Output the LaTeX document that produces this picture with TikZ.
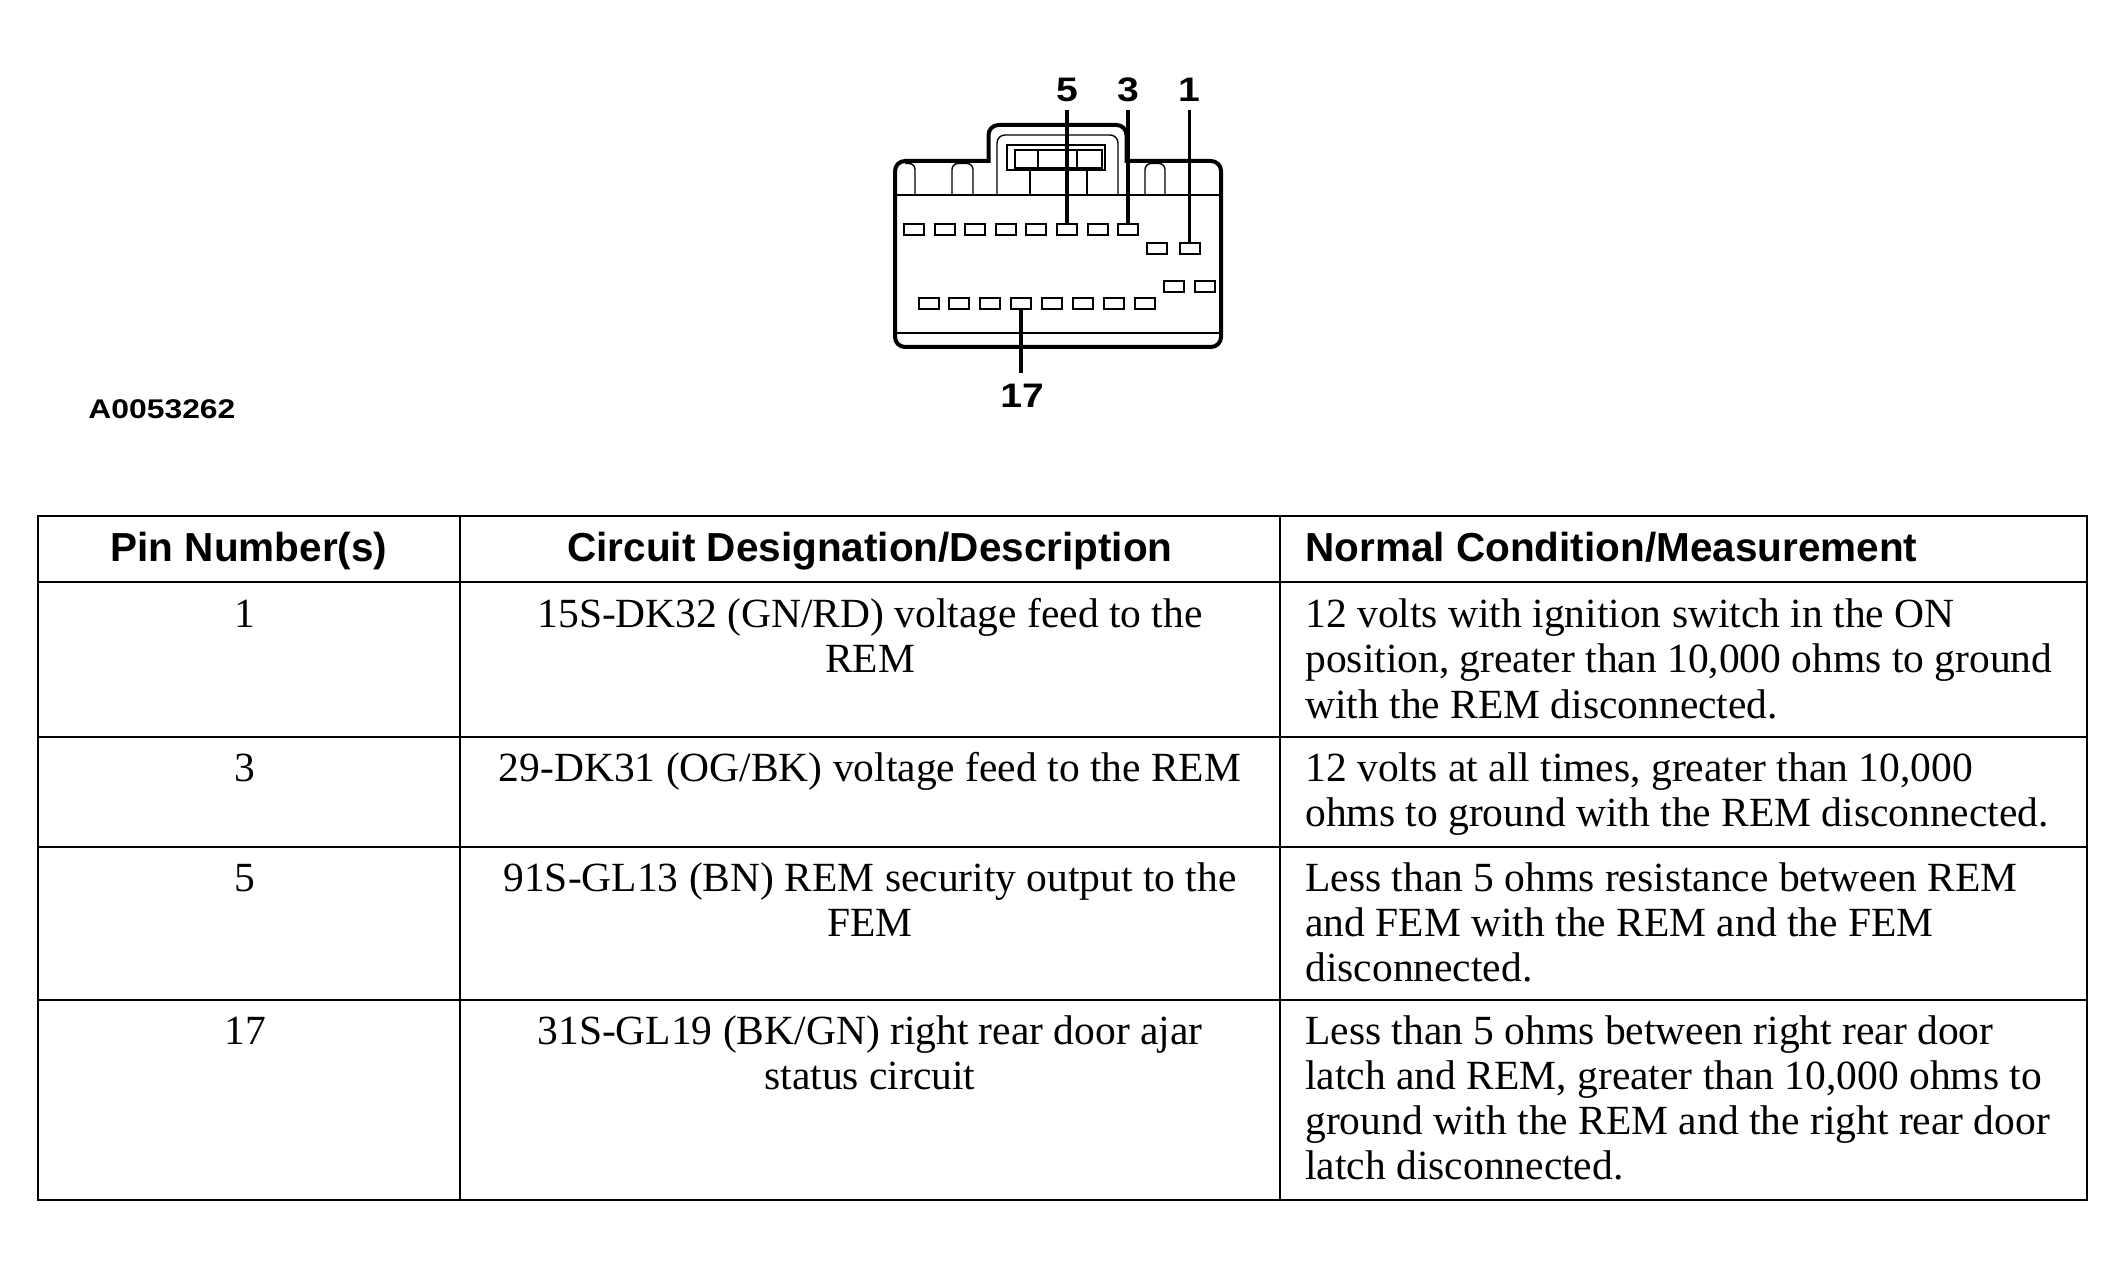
\documentclass[tikz,border=0pt]{standalone}
\usepackage{fontspec}
\setmainfont{Liberation Serif}
\newfontfamily\hdfont{Liberation Sans}
\newfontfamily\codefont[FakeStretch=1.18]{Liberation Sans}
\newfontfamily\lblfont[FakeStretch=1.15]{Liberation Sans}
\begin{document}
\begin{tikzpicture}[x=0.5pt,y=-0.5pt,
  bodyln/.style={line width=2pt},
  thinln/.style={line width=0.7pt},
  midln/.style={line width=1pt},
  pinbox/.style={draw, line width=1pt, minimum width=10pt, minimum height=5.5pt, inner sep=0pt, outer sep=0pt},
  leader/.style={line width=1.8pt},
  pinlbl/.style={font=\lblfont\bfseries\fontsize{17}{17}\selectfont, inner sep=0pt, anchor=base},
  figid/.style={font=\codefont\bfseries\fontsize{13.5}{14}\selectfont, inner sep=0pt, anchor=base west},
  hd/.style={font=\hdfont\bfseries\fontsize{20.25}{24}\selectfont, inner sep=0pt, anchor=base},
  tc/.style={font=\fontsize{20.75}{22.5}\selectfont, inner sep=0pt, anchor=base},
  tl/.style={font=\fontsize{20.75}{22.5}\selectfont, inner sep=0pt, anchor=base west},
  gridln/.style={line width=1.25pt}]
\useasboundingbox (0,0) rectangle (2124,1277);

% ---------- connector body ----------
\draw[bodyln, rounded corners=5pt] (988.5,161) -- (895,161) -- (895,347) -- (1221,347) -- (1221,161) -- (1126.5,161);
\draw[bodyln, rounded corners=5pt] (988.5,163) -- (988.5,125) -- (1126.5,125) -- (1126.5,163);
% inner tab outline
\draw[thinln, rounded corners=4pt] (997,195) -- (997,135) -- (1118,135) -- (1118,195);
\draw[thinln] (1007,145) rectangle (1105,170);
\draw[midln] (1015,150) rectangle (1102,168);
\draw[midln] (1038,150) -- (1038,168);
\draw[midln] (1077,150) -- (1077,168);
\draw[thinln] (1030,170) -- (1030,195);
\draw[thinln] (1087,170) -- (1087,195);
% top strip
\draw[thinln] (897,195) -- (1219,195);
\draw[thinln, rounded corners=3pt] (915,195) -- (915,163.5) -- (905,163.5);
\draw[thinln, rounded corners=3pt] (952,195) -- (952,163.5) -- (973,163.5) -- (973,195);
\draw[thinln, rounded corners=3pt] (1145,195) -- (1145,163.5) -- (1165,163.5) -- (1165,195);
% bottom strip
\draw[line width=1.2pt] (897,333) -- (1219,333);

% ---------- pins ----------
\foreach \i in {1,...,8} {
  \node[pinbox] (a\i) at ({914+30.6*(\i-1)},229.5) {};
  \node[pinbox] (d\i) at ({928.5+30.9*(\i-1)},303.5) {};
}
\node[pinbox] (b1) at (1157,248.5) {};
\node[pinbox] (b2) at (1189.5,248.5) {};
\node[pinbox] (c1) at (1174,286.5) {};
\node[pinbox] (c2) at (1205,286.5) {};

% ---------- pin labels and leaders ----------
\node[pinlbl] (n5) at (1067,102) {5};
\node[pinlbl] (n3) at (1128,102) {3};
\node[pinlbl] (n1) at (1189,102) {1};
\node[pinlbl] (n17) at (1022,408) {17};
\coordinate (t5) at (a6.north |- 0,110);
\coordinate (t3) at (a8.north |- 0,110);
\coordinate (t1) at (b2.north |- 0,110);
\coordinate (t17) at (d4.south |- 0,373);
\draw[leader] (t5) -- (a6.north);
\draw[leader] (t3) -- (a8.north);
\draw[leader] (t1) -- (b2.north);
\draw[leader] (d4.south) -- (t17);

\node[figid] (fid) at (88,419) {A0053262};

% ---------- table ----------
\draw[gridln] (38,516) rectangle (2087,1200);
\draw[gridln] (38,582) -- (2087,582);
\draw[gridln] (38,737) -- (2087,737);
\draw[gridln] (38,847) -- (2087,847);
\draw[gridln] (38,1000) -- (2087,1000);
\draw[gridln] (460,516) -- (460,1200);
\draw[gridln] (1280,516) -- (1280,1200);

\node[hd] (h1) at (249,562) {Pin Number(s)};
\node[hd] (h2) at (870,562) {Circuit Designation/Description};
\node[hd, anchor=base west] (h3) at (1305,562) {Normal Condition/Measurement};

% row 1
\node[tc] (r1a) at (245,628) {1};
\node[tc] (r1b1) at (870,628) {15S-DK32 (GN/RD) voltage feed to the};
\node[tc] (r1b2) at (870,673) {REM};
\node[tl] (r1c1) at (1305,628) {12 volts with ignition switch in the ON};
\node[tl] (r1c2) at (1305,673) {position, greater than 10,000 ohms to ground};
\node[tl] (r1c3) at (1305,718) {with the REM disconnected.};
% row 2
\node[tc] (r2a) at (245,781) {3};
\node[tc] (r2b1) at (870,781) {29-DK31 (OG/BK) voltage feed to the REM};
\node[tl] (r2c1) at (1305,781) {12 volts at all times, greater than 10,000};
\node[tl] (r2c2) at (1305,826) {ohms to ground with the REM disconnected.};
% row 3
\node[tc] (r3a) at (245,891) {5};
\node[tc] (r3b1) at (870,891) {91S-GL13 (BN) REM security output to the};
\node[tc] (r3b2) at (870,936) {FEM};
\node[tl] (r3c1) at (1305,891) {Less than 5 ohms resistance between REM};
\node[tl] (r3c2) at (1305,936) {and FEM with the REM and the FEM};
\node[tl] (r3c3) at (1305,981) {disconnected.};
% row 4
\node[tc] (r4a) at (245,1044) {17};
\node[tc] (r4b1) at (870,1044) {31S-GL19 (BK/GN) right rear door ajar};
\node[tc] (r4b2) at (870,1089) {status circuit};
\node[tl] (r4c1) at (1305,1044) {Less than 5 ohms between right rear door};
\node[tl] (r4c2) at (1305,1089) {latch and REM, greater than 10,000 ohms to};
\node[tl] (r4c3) at (1305,1134) {ground with the REM and the right rear door};
\node[tl] (r4c4) at (1305,1179) {latch disconnected.};
\end{tikzpicture}
\end{document}
